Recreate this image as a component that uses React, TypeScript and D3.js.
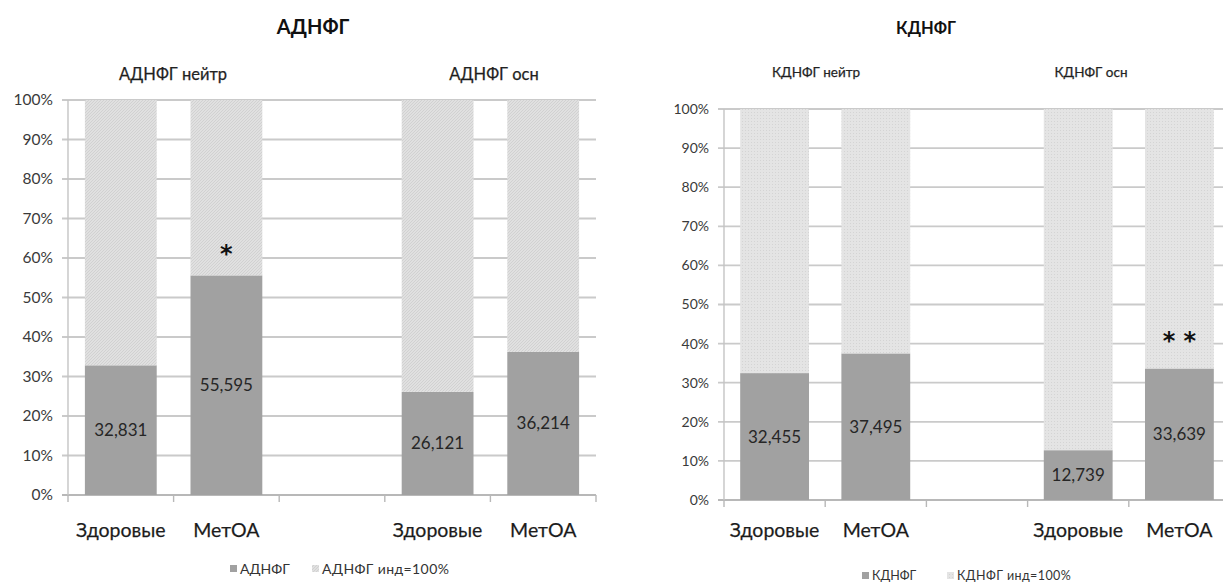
import React from "react";
import * as d3 from "d3";

// Categories along the x axis (the empty slot separates the two groups)
const categories = ["Здоровые", "МетОА", "", "Здоровые", "МетОА"];

// Share of the measured fraction, % of the induced level (инд = 100%)
const adnfgValues: (number | null)[] = [32.831, 55.595, null, 26.121, 36.214];
const kdnfgValues: (number | null)[] = [32.455, 37.495, null, 12.739, 33.639];

// Significance marks above bars
const adnfgMarks = ["", "*", "", "", ""];
const kdnfgMarks = ["", "", "", "", "* *"];

const yTicks = [0, 10, 20, 30, 40, 50, 60, 70, 80, 90, 100];

const W = 1223;
const H = 583;

const ruLocale = d3.formatLocale({
  decimal: ",",
  thousands: " ",
  grouping: [3],
  currency: ["", " ₽"],
});
const fmtValue = ruLocale.format(".3f");

const FONT = "Lato, 'Open Sans', sans-serif";

type PanelProps = {
  title: string;
  titleX: number;
  titleY: number;
  titleSize: number;
  subtitles: { text: string; x: number }[];
  subY: number;
  subSize: number;
  x0: number;
  x1: number;
  yTop: number;
  yBottom: number;
  values: (number | null)[];
  marks: string[];
  markGap: number;
  tickSize: number;
  catY: number;
  legendY: number;
  legendX: [number, number];
  legendSize: number;
  seriesName: string;
  patternId: string;
};

// slight outline so the small text keeps the weight of the printed figure
const inkText = { stroke: "#2a2a2a", strokeWidth: 0.25 } as const;

function Panel(p: PanelProps) {
  const x = d3
    .scaleBand<number>()
    .domain(categories.map((_, i) => i))
    .range([p.x0, p.x1])
    .paddingInner(0.32)
    .paddingOuter(0.16);
  const step = x.step();
  const y = d3.scaleLinear().domain([0, 100]).range([p.yBottom, p.yTop]);

  const rows = categories.map((c, i) => ({
    i,
    c,
    part: p.values[i] ?? 0,
    rest: p.values[i] == null ? 0 : 100 - (p.values[i] as number),
  }));
  const stack = d3.stack<(typeof rows)[number]>().keys(["part", "rest"]);
  const series = stack(rows as any);
  const fills = ["#a1a1a1", `url(#${p.patternId})`];

  return (
    <g>
      <text
        x={p.titleX}
        y={p.titleY}
        textAnchor="middle"
        fontFamily={FONT}
        fontWeight="bold"
        fontSize={p.titleSize}
        fill="#111"
      >
        {p.title}
      </text>
      {p.subtitles.map((s, k) => (
        <text
          key={k}
          x={s.x}
          y={p.subY}
          textAnchor="middle"
          fontFamily={FONT}
          fontSize={p.subSize}
          fill="#1e1e1e"
          {...inkText}
        >
          {s.text}
        </text>
      ))}

      {/* horizontal gridlines */}
      {yTicks.map((t) => (
        <line
          key={t}
          x1={p.x0 - 6}
          x2={p.x1}
          y1={y(t)}
          y2={y(t)}
          stroke={t === 0 ? "#b8b8b8" : "#cacaca"}
          strokeWidth={1.8}
        />
      ))}
      {yTicks.map((t) => (
        <text
          key={"l" + t}
          x={p.x0 - 15}
          y={y(t)}
          dy="0.35em"
          textAnchor="end"
          fontFamily={FONT}
          fontSize={p.tickSize}
          fill="#3a3a3a"
        >
          {t + "%"}
        </text>
      ))}
      {/* value axis */}
      <line x1={p.x0} x2={p.x0} y1={y(100)} y2={y(0)} stroke="#c4c4c4" strokeWidth={1.4} />
      {/* category tick marks */}
      {d3.range(categories.length + 1).map((k) => (
        <line
          key={"t" + k}
          x1={p.x0 + k * step}
          x2={p.x0 + k * step}
          y1={y(0)}
          y2={y(0) + 7}
          stroke="#b8b8b8"
          strokeWidth={1.4}
        />
      ))}

      {/* stacked bars */}
      {series.map((s, si) =>
        s.map((d, di) =>
          d[1] - d[0] > 0 ? (
            <rect
              key={si + "-" + di}
              x={x(di)}
              width={x.bandwidth()}
              y={y(d[1])}
              height={y(d[0]) - y(d[1])}
              fill={fills[si]}
            />
          ) : null
        )
      )}

      {/* value labels */}
      {rows.map((r) =>
        p.values[r.i] == null ? null : (
          <text
            key={"v" + r.i}
            x={(x(r.i) as number) + x.bandwidth() / 2}
            y={y(r.part / 2)}
            dy="0.35em"
            textAnchor="middle"
            fontFamily={FONT}
            fontSize={17}
            fill="#262626"
          >
            {fmtValue(r.part)}
          </text>
        )
      )}

      {/* significance marks */}
      {rows.map((r) =>
        p.marks[r.i] ? (
          <text
            key={"m" + r.i}
            x={(x(r.i) as number) + x.bandwidth() / 2}
            y={y(r.part) - p.markGap}
            dy="0.62em"
            textAnchor="middle"
            fontFamily="'DejaVu Sans', sans-serif"
            fontWeight="bold"
            fontSize={24}
            fill="#111"
          >
            {p.marks[r.i]}
          </text>
        ) : null
      )}

      {/* category labels */}
      {rows.map((r) =>
        r.c ? (
          <text
            key={"c" + r.i}
            x={(x(r.i) as number) + x.bandwidth() / 2}
            y={p.catY}
            dy="0.35em"
            textAnchor="middle"
            fontFamily={FONT}
            fontSize={19.5}
            fill="#1a1a1a"
            {...inkText}
          >
            {r.c}
          </text>
        ) : null
      )}

      {/* legend */}
      <rect x={p.legendX[0]} y={p.legendY - 4} width={7} height={7} fill="#a1a1a1" />
      <text
        x={p.legendX[0] + 10}
        y={p.legendY}
        dy="0.35em"
        fontFamily={FONT}
        fontSize={p.legendSize}
        fill="#333"
      >
        {p.seriesName}
      </text>
      <rect
        x={p.legendX[1]}
        y={p.legendY - 4}
        width={7}
        height={7}
        fill={`url(#${p.patternId})`}
      />
      <text
        x={p.legendX[1] + 10}
        y={p.legendY}
        dy="0.35em"
        fontFamily={FONT}
        fontSize={p.legendSize}
        fill="#333"
        letterSpacing={0.4}
      >
        {p.seriesName + " инд=100%"}
      </text>
    </g>
  );
}

export default function App() {
  return (
    <svg
      width={W}
      height={H}
      style={{ position: "absolute", left: 0, top: 0, background: "#fff" }}
    >
      <defs>
        <pattern id="hatchA" width="3" height="3" patternUnits="userSpaceOnUse">
          <rect width="3" height="3" fill="#e0e0e0" />
          <path d="M0,3 L3,0" stroke="#cdcdcd" strokeWidth="0.8" />
        </pattern>
        <pattern id="hatchK" width="3" height="3" patternUnits="userSpaceOnUse">
          <rect width="3" height="3" fill="#e4e4e4" />
          <rect x="1" y="1" width="1" height="1" fill="#d4d4d4" />
        </pattern>
      </defs>
      <rect width={W} height={H} fill="#fff" />
      <Panel
        title="АДНФГ"
        titleX={313}
        titleY={34}
        titleSize={20}
        subtitles={[
          { text: "АДНФГ нейтр", x: 173 },
          { text: "АДНФГ осн", x: 494 },
        ]}
        subY={80}
        subSize={16.5}
        x0={68}
        x1={596}
        yTop={100}
        yBottom={495}
        values={adnfgValues}
        marks={adnfgMarks}
        markGap={28}
        tickSize={15.5}
        catY={530}
        legendY={569}
        legendX={[230, 312]}
        legendSize={14}
        seriesName="АДНФГ"
        patternId="hatchA"
      />
      <Panel
        title="КДНФГ"
        titleX={926}
        titleY={34}
        titleSize={16.5}
        subtitles={[
          { text: "КДНФГ нейтр", x: 816 },
          { text: "КДНФГ осн", x: 1091 },
        ]}
        subY={77}
        subSize={13.5}
        x0={724}
        x1={1230}
        yTop={109}
        yBottom={500}
        values={kdnfgValues}
        marks={kdnfgMarks}
        markGap={34}
        tickSize={14}
        catY={530}
        legendY={576}
        legendX={[862, 947]}
        legendSize={12.5}
        seriesName="КДНФГ"
        patternId="hatchK"
      />
    </svg>
  );
}
